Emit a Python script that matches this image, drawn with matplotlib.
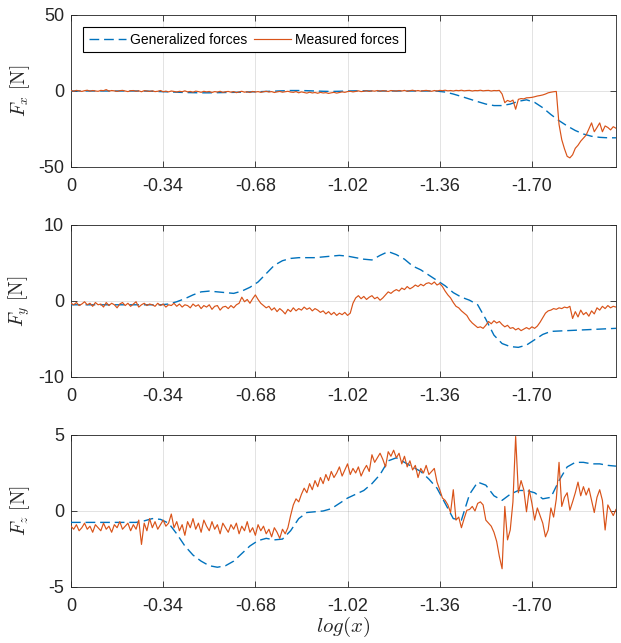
"""
Generalized vs measured contact forces (Fx, Fy, Fz) along log(x)
"""
import numpy as np
import matplotlib.pyplot as plt

plt.rcParams['font.family'] = ['Liberation Sans', 'DejaVu Sans']
plt.rcParams['mathtext.fontset'] = 'cm'
plt.rcParams['axes.unicode_minus'] = False

# sample spacing of the two signals (x axis is shown with negated labels)
gen_step = 0.03
meas_step = 0.01

# Generalized forces, one value every 0.03
gen_fx = [0.0, 0.0, 0.0, 0.0, 0.0, 0.0, 0.0, 0.0, 0.0, 0.0,
          -0.2, -0.4, -0.6, -0.8, -1.0, -1.1, -1.2, -1.2, -1.1, -1.0,
          -0.9, -0.8, -0.6, -0.5, -0.3, -0.1, 0.1, 0.3, 0.3, 0.2,
          0.0, -0.2, -0.3, -0.2, 0.0, 0.1, 0.1, 0.0, 0.0, 0.0,
          0.0, 0.0, 0.0, 0.0, 0.0, -0.1, -0.7, -2.0, -3.6, -5.3,
          -7.0, -8.6, -9.6, -9.6, -8.6, -6.8, -5.8, -7.5, -11.0, -15.5,
          -19.5, -23.0, -26.0, -28.3, -29.8, -30.5, -30.8, -30.8]
gen_fy = [-0.5, -0.5, -0.5, -0.5, -0.5, -0.5, -0.5, -0.5, -0.5, -0.5,
          -0.5, -0.5, -0.4, -0.1, 0.3, 0.8, 1.2, 1.3, 1.2, 1.1,
          1.0, 1.3, 1.8, 2.5, 3.6, 4.7, 5.3, 5.6, 5.7, 5.7,
          5.7, 5.8, 5.9, 6.0, 5.9, 5.7, 5.5, 5.4, 6.0, 6.5,
          6.1, 5.5, 4.6, 4.1, 3.4, 2.7, 2.0, 1.1, 0.5, 0.1,
          -0.5, -2.4, -4.5, -5.6, -6.0, -6.1, -5.8, -5.1, -4.4, -4.0,
          -3.95, -3.9, -3.85, -3.8, -3.75, -3.7, -3.65, -3.6]
gen_fz = [-0.75, -0.75, -0.75, -0.75, -0.75, -0.75, -0.75, -0.75, -0.75, -0.65,
          -0.5, -0.55, -0.8, -1.5, -2.3, -2.9, -3.3, -3.6, -3.7, -3.6,
          -3.3, -2.8, -2.3, -1.95, -1.8, -1.9, -1.85, -1.3, -0.5, -0.1,
          -0.05, 0.0, 0.15, 0.5, 0.85, 1.1, 1.35, 1.8, 2.4, 3.3,
          3.5, 3.2, 2.9, 2.6, 2.1, 1.5, 0.5, -0.5, -0.6, 1.1,
          1.9, 1.7, 1.0, 0.7, 1.1, 1.35, 1.35, 1.2, 0.8, 0.9,
          2.0, 2.9, 3.2, 3.2, 3.1, 3.1, 3.0, 2.95]

# Measured forces, one value every 0.01 (rows of 0.1)
meas_fx = [0.3, -0.2, 0.4, 0.1, -0.3, 0.2, 0.5, -0.1, 0.3, 0.0,
           -0.2, 0.4, 0.2, 0.9, -0.1, 0.3, 0.1, -0.3, 0.2, 0.4,
           0.0, -0.4, 0.2, 0.3, -0.2, 0.1, -0.5, 0.2, 0.0, -0.3,
           0.1, -0.4, -0.2, 0.3, -0.5, -0.1, -0.6, 0.0, -0.3, -0.7,
           -0.2, -0.5, 0.1, -0.6, -0.3, -0.8, -0.1, -0.4, -0.9, -0.2,
           -0.6, -0.3, -1.0, -0.4, -0.7, -0.2, -0.9, -0.5, -0.3, -0.8,
           -0.4, -1.1, -0.6, -0.2, -0.8, -0.5, -1.0, -0.3, -0.7, -0.4,
           -0.9, -0.5, -0.2, -0.7, -0.4, -1.0, -0.6, -0.3, -0.8, -0.5,
           -0.2, -0.7, -0.9, -0.4, -1.2, -0.6, -1.0, -1.4, -0.8, -1.3,
           -1.0, -1.5, -0.9, -1.3, -1.1, -1.6, -1.2, -0.9, -1.4, -1.0,
           -0.6, -0.9, -0.4, -0.2, -0.6, -0.3, 0.1, -0.4, -0.2, 0.2,
           -0.3, 0.1, -0.1, 0.3, -0.2, 0.2, 0.0, -0.3, 0.3, 0.1,
           -0.1, 0.3, 0.0, 0.4, -0.2, 0.2, 0.5, 0.0, 0.3, -0.1,
           0.2, 0.4, 0.1, -0.2, 0.3, 0.0, 0.4, 0.2, 0.5, 0.1,
           0.3, 0.0, 0.4, 0.2, 0.5, 0.1, 0.3, 0.4, 0.0, 0.3,
           0.2, 0.5, 0.1, 0.3, 0.4, 0.0, 0.3, 0.2, 0.4, -2.0,
           -7.7, -6.2, -7.0, -6.0, -12.0, -5.5, -5.0, -5.2, -4.5, -4.4,
           -4.2, -3.8, -3.3, -3.0, -2.6, -2.0, -1.2, -0.8, -0.5, -0.3,
           -22.0, -32.0, -38.0, -43.0, -44.0, -42.0, -37.7, -35.7, -33.0, -31.0,
           -29.0, -25.0, -21.0, -26.8, -24.0, -21.0, -26.8, -23.0, -24.0, -25.6,
           -23.5, -24.5]
meas_fy = [-0.3, -0.5, -0.2, -0.6, -0.4, -0.1, -0.5, -0.3, -0.7, -0.2,
           -0.5, -0.4, -0.8, -0.2, -0.6, -0.3, -0.5, -0.9, -0.4, -0.2,
           -0.6, -0.3, -0.7, -0.4, -0.1, -0.8, -0.5, -0.3, -0.6, -0.4,
           -0.5, -0.7, -0.3, -0.6, -0.4, -0.8, -0.5, -0.6, -0.3, -0.7,
           -0.4, -0.8, -0.5, -0.6, -0.9, -0.4, -0.7, -0.5, -1.0, -0.6,
           -0.8, -0.5, -1.1, -0.7, -0.6, -1.2, -0.8, -0.7, -1.0, -0.6,
           -0.9, -0.5, -0.3, 0.5, -0.1, 0.2, -0.3, 0.3, 0.8, 0.2,
           -0.3, -0.6, -0.9, -0.7, -1.2, -0.9, -1.4, -1.0, -1.3, -1.7,
           -1.1, -1.4, -0.9, -1.3, -1.0, -1.2, -0.8, -1.1, -0.9, -1.3,
           -1.0, -1.2, -1.5, -1.3, -1.7, -1.4, -1.8, -1.5, -1.9, -1.6,
           -1.8, -1.5, -1.9, -1.6, -0.3, 0.4, 0.7, 0.3, 0.6, 0.2,
           0.5, 0.7, 0.3, 0.5, 0.1, 0.4, 0.8, 1.2, 1.0, 1.3,
           1.5, 1.3, 1.7, 1.5, 1.9, 1.6, 1.8, 2.1, 1.9, 2.2,
           2.0, 2.3, 2.4, 2.2, 2.5, 2.1, 2.3, 1.9, 1.3, 0.8,
           0.4, -0.2, -0.7, -0.9, -1.3, -1.6, -1.9, -2.5, -2.9, -3.2,
           -3.5, -3.4, -3.6, -3.2, -2.7, -3.0, -2.6, -2.9, -2.7, -3.1,
           -3.4, -3.2, -3.6, -3.5, -3.8, -3.6, -3.9, -3.7, -3.5, -3.7,
           -3.4, -3.6, -3.3, -2.8, -2.2, -1.6, -1.3, -1.2, -1.0, -1.1,
           -0.9, -1.0, -0.8, -0.9, -0.7, -2.3, -1.4, -2.1, -1.2, -1.8,
           -1.5, -2.0, -1.3, -1.7, -0.9, -1.2, -0.7, -1.0, -0.6, -0.9,
           -0.7, -0.8]
meas_fz = [-1.0, -1.2, -0.9, -1.3, -1.1, -0.8, -1.2, -1.0, -1.4, -0.9,
           -1.1, -1.3, -0.8, -1.2, -1.0, -1.4, -0.9, -1.1, -0.7, -1.2,
           -1.0, -0.8, -1.3, -0.9, -1.2, -0.6, -2.2, -0.8, -1.3, -0.5,
           -1.1, -0.7, -1.2, -0.9, -0.6, -1.0, -0.8, -0.2, -1.1, -0.7,
           -1.3, -0.9, -1.6, -0.7, -1.1, -0.5, -1.2, -0.8, -1.4, -0.6,
           -1.0, -1.3, -0.7, -1.2, -0.9, -1.5, -0.8, -1.1, -1.4, -0.9,
           -1.2, -0.8, -1.5, -1.0, -1.3, -0.7, -1.4, -1.1, -1.6, -0.9,
           -1.3, -1.0, -1.5, -1.2, -1.7, -1.1, -1.4, -1.8, -1.2, -1.5,
           -1.1, -0.3, 0.4, 0.8, 0.6, 1.1, 1.5, 1.2, 1.8, 1.4,
           2.0, 1.6, 2.2, 1.8, 2.4, 2.0, 2.6, 2.2, 2.5, 2.9,
           2.3, 2.7, 3.1, 2.4, 2.8, 2.5, 2.9, 2.3, 2.7, 3.0,
           2.6, 3.7, 3.2, 3.5, 3.8, 3.4, 2.9, 3.9, 3.6, 4.0,
           3.5, 3.8, 3.1, 3.6, 2.9, 3.3, 2.7, 3.0, 2.2, 2.8,
           2.5, 3.0, 2.4, 2.6, 2.8, 1.9, 1.4, 0.85, 0.7, 0.4,
           -0.1, 1.4, -0.6, -0.4, -1.1, -0.5, 0.05, 0.1, 0.3, 0.0,
           0.5, 0.6, 0.4, -0.6, -0.8, -1.0, -1.4, -2.0, -3.0, -3.8,
           0.3, -1.9, -1.25, 0.6, 4.9, 1.2, 2.0, 1.4, -0.05, 1.4,
           0.5, -0.6, 0.2, -0.3, -0.8, -1.7, -1.25, 0.2, -0.4, 0.8,
           3.2, 0.3, 0.9, 1.2, 0.05, 0.6, 1.2, 1.9, 1.0, 1.6,
           1.05, 1.5, 0.7, -0.1, 0.9, 1.4, 0.7, -1.25, 0.4, 0.05,
           -0.3, 0.1]

x_ticks = [0, 0.34, 0.68, 1.02, 1.36, 1.70]
x_tick_labels = ['0', '-0.34', '-0.68', '-1.02', '-1.36', '-1.70']
y_labels = [r'$F_x\ [\mathrm{N}]$', r'$F_y\ [\mathrm{N}]$', r'$F_z\ [\mathrm{N}]$']
y_limits = [50, 10, 5]

gen_color = '#0072BD'
meas_color = '#D95319'
axis_color = '#262626'

fig = plt.figure(figsize=(6.21, 6.43), dpi=100)
panel_bottoms = [0.7403, 0.4137, 0.0871]
axes = [fig.add_axes([0.1143, b, 0.8776, 0.2364]) for b in panel_bottoms]

for ax, gen, meas, ylab, lim in zip(axes, [gen_fx, gen_fy, gen_fz],
                                    [meas_fx, meas_fy, meas_fz], y_labels, y_limits):
    xg = np.arange(len(gen)) * gen_step
    xm = np.arange(len(meas)) * meas_step
    ax.plot(xg, gen, color=gen_color, lw=1.0, ls=(0, (7, 3.5)),
            label='Generalized forces', zorder=3)
    ax.plot(xm, meas, color=meas_color, lw=0.85, label='Measured forces', zorder=4)
    ax.set_xlim(0, 2.01)
    ax.set_ylim(-lim, lim)
    ax.set_yticks([-lim, 0, lim])
    ax.set_xticks(x_ticks)
    ax.set_xticklabels(x_tick_labels)
    ax.tick_params(direction='in', top=True, right=True, labelsize=13,
                   colors=axis_color, length=4, width=0.6)
    ax.tick_params(axis='x', pad=8)
    ax.tick_params(axis='y', pad=5)
    ax.grid(True, color=axis_color, alpha=0.15, lw=0.6)
    ax.set_axisbelow(True)
    for s in ax.spines.values():
        s.set_color(axis_color)
        s.set_linewidth(0.6)
    ax.set_ylabel(ylab, fontsize=14, color=axis_color)
    ax.yaxis.set_label_coords(-0.072, 0.5)

axes[2].set_xlabel(r'$log(x)$', fontsize=15, color=axis_color, labelpad=0)

leg = axes[0].legend(loc='upper left', ncol=2, fontsize=10, frameon=True,
                     fancybox=False, edgecolor='black', framealpha=1,
                     bbox_to_anchor=(0.022, 0.92), borderaxespad=0,
                     handlelength=2.7, columnspacing=0.45, handletextpad=0.3,
                     borderpad=0.4)
leg.get_frame().set_linewidth(0.8)

plt.savefig('out.png', dpi=100)
plt.close()
